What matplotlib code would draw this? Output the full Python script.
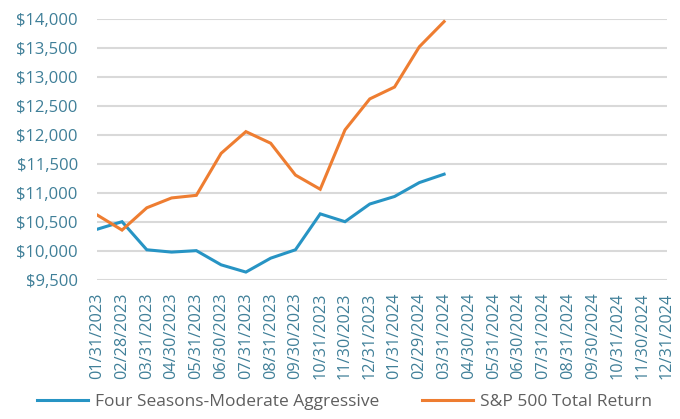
import matplotlib
matplotlib.use('Agg')
import matplotlib.pyplot as plt
from matplotlib.ticker import FuncFormatter

DATES = ['01/31/2023', '02/28/2023', '03/31/2023', '04/30/2023', '05/31/2023',
         '06/30/2023', '07/31/2023', '08/31/2023', '09/30/2023', '10/31/2023',
         '11/30/2023', '12/31/2023', '01/31/2024', '02/29/2024', '03/31/2024',
         '04/30/2024', '05/31/2024', '06/30/2024', '07/31/2024', '08/31/2024',
         '09/30/2024', '10/31/2024', '11/30/2024', '12/31/2024']

FOUR_SEASONS = [10375, 10505, 10020, 9980, 10005, 9760, 9635, 9875, 10020,
                10640, 10505, 10810, 10940, 11180, 11325]
SP500 = [10620, 10360, 10745, 10915, 10960, 11685, 12060, 11860, 11310,
         11065, 12090, 12625, 12830, 13525, 13960]

NAMES = ['Four Seasons-Moderate Aggressive', 'S&P 500 Total Return']
COLORS = ['#2794c4', '#ee7d31']
TICK_COLOR = '#3f7f98'


def main():
    plt.rcParams['font.family'] = ['Open Sans', 'DejaVu Sans']
    fig = plt.figure(figsize=(6.8, 4.19), dpi=100)
    ax = fig.add_axes([0.143, 0.332, 0.838, 0.622])

    x = list(range(len(DATES)))
    for vals, name, color in zip([FOUR_SEASONS, SP500], NAMES, COLORS):
        ax.plot(x[:len(vals)], vals, color=color, lw=2.2, label=name,
                solid_joinstyle='miter')

    ax.set_xlim(0, len(DATES) - 1)
    ax.set_ylim(9500, 14000)
    ax.set_yticks(range(9500, 14001, 500))
    ax.yaxis.set_major_formatter(FuncFormatter(lambda v, p: '${:,.0f}'.format(v)))
    ax.set_xticks(x)
    ax.set_xticklabels(DATES, rotation=90)

    ax.grid(axis='y', color='#d9d9d9', lw=1.5)
    ax.set_axisbelow(True)
    for s in ax.spines.values():
        s.set_visible(False)
    ax.tick_params(axis='y', length=0, pad=14, labelsize=12, labelcolor=TICK_COLOR)
    ax.tick_params(axis='x', length=0, pad=9, labelsize=11.7, labelcolor=TICK_COLOR)

    leg = fig.legend(loc='lower left', bbox_to_anchor=(0.032, -0.017), ncol=2,
                     frameon=False, fontsize=12.5, handlelength=2.9,
                     columnspacing=2.5, handletextpad=0.4)
    for t in leg.get_texts():
        t.set_color('#5f5f5f')

    fig.savefig('out.png', dpi=100)


if __name__ == '__main__':
    main()
